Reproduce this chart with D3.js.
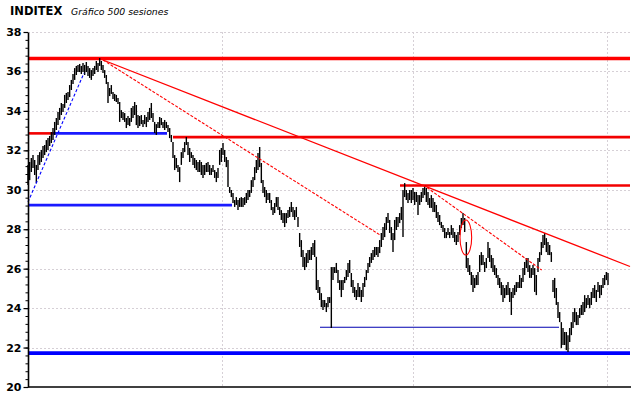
<!DOCTYPE html>
<html><head><meta charset="utf-8">
<script src="https://cdn.jsdelivr.net/npm/d3@7"></script>
<style>html,body{margin:0;padding:0;background:#fff;} svg{display:block;}</style>
</head><body>
<svg id="c" width="640" height="398"></svg>
<script>
// ---------- data ----------
const titleMain = "INDITEX";
const titleSub = "Gráfico 500 sesiones";
const yTickValues = [20, 22, 24, 26, 28, 30, 32, 34, 36, 38];
const yGridValues = [22, 24, 26, 28, 30, 32, 34, 36, 38];
const xGridSessions = [116.4, 231, 347.4];
const sessionSpan = [0, 361.2];

const highs = [
31.26,31.41,31.61,31.76,31.51,31.26,31.76,31.91,32.02,32.22,32.27,32.52,32.62,32.73,32.93,33.13,33.44,
33.64,33.94,34.15,34.40,34.35,34.81,34.91,34.96,35.31,35.57,
35.87,36.17,36.28,36.33,36.38,36.28,36.43,36.33,36.48,36.28,
36.17,36.07,36.17,36.28,36.53,36.43,36.68,36.53,36.33,36.07,
35.82,35.46,35.16,35.31,34.96,34.86,34.81,34.65,34.45,34.04,
33.94,33.89,33.64,33.74,33.64,34.15,34.25,34.45,34.30,33.79,
33.74,33.79,33.54,33.79,33.69,33.94,34.15,34.40,33.89,33.44,
33.33,33.44,33.69,33.64,33.44,33.54,33.44,33.28,33.13,32.78,
32.42,31.76,31.61,31.26,31.15,31.91,32.12,32.42,32.68,32.42,
32.12,31.91,31.76,31.61,31.51,31.41,31.51,31.41,31.26,31.26,
31.36,31.41,31.26,31.10,31.26,31.00,30.90,31.10,32.02,
32.12,32.37,32.02,31.66,31.51,30.14,29.99,29.84,29.48,29.63,
29.48,29.58,29.63,29.58,29.63,29.84,29.99,29.99,30.49,30.65,
31.15,31.51,31.86,32.17,31.36,30.49,30.14,29.99,29.84,29.84,
29.48,29.13,29.33,29.63,29.63,29.13,28.97,28.82,28.82,28.82,
28.97,29.13,29.38,29.13,28.97,29.13,28.62,27.81,27.45,26.95,
26.59,26.79,26.95,26.95,27.10,27.30,27.45,26.60,25.42,25.07,
24.76,24.41,24.41,24.26,24.56,24.56,26.08,26.08,26.08,26.29,
25.93,25.42,25.42,25.42,25.58,25.93,26.29,26.44,25.78,25.42,
25.07,24.92,25.27,25.07,24.92,25.27,25.58,25.93,26.29,26.59,
26.79,26.95,27.10,27.10,27.10,27.45,27.81,28.11,28.31,28.62,
28.82,28.47,28.11,27.81,28.47,28.62,28.62,28.82,29.13,29.99,
30.34,29.99,29.84,29.99,
29.99,30.09,29.89,29.89,29.73,29.73,29.89,30.09,30.24,30.09,
29.89,29.58,29.73,29.58,29.38,29.23,28.87,28.72,28.37,28.21,
28.06,27.86,28.06,27.86,28.21,28.06,27.86,27.71,27.86,28.21,
28.57,28.82,28.57,27.35,26.54,26.18,25.83,25.68,25.53,25.68,
25.83,26.69,26.84,26.69,26.34,26.54,27.35,27.05,26.69,26.54,
26.18,26.03,25.68,25.53,25.32,25.17,25.02,25.17,25.32,25.02,
24.82,25.02,25.17,25.32,25.32,25.68,25.53,26.03,26.34,26.54,
26.54,26.18,26.03,26.18,26.03,25.68,26.54,26.84,27.35,27.71,
27.81,27.55,27.35,27.20,26.84,25.42,25.53,25.02,24.31,23.80,
23.29,22.99,22.79,22.79,22.63,22.99,23.29,23.80,24.00,23.80,
23.65,24.00,24.16,24.31,24.66,24.51,24.66,24.51,24.82,25.02,
25.17,24.92,25.32,25.17,25.17,25.53,25.68,25.83,25.78
];

const lows = [
30.24,30.49,30.90,31.10,30.75,30.34,31.00,31.26,31.41,31.61,31.76,31.91,32.02,32.22,32.37,32.52,32.78,
33.03,33.28,33.54,33.79,33.94,34.15,34.40,34.55,34.70,35.06,
35.36,35.57,35.82,35.97,35.97,35.87,35.97,35.82,35.97,35.77,
35.67,35.57,35.77,35.87,36.07,35.97,36.28,36.07,35.92,35.67,
35.36,34.40,34.75,34.86,34.60,34.50,34.45,34.35,33.44,33.64,
33.54,33.44,33.13,33.28,33.23,33.44,33.64,33.79,33.28,33.13,
33.23,33.33,33.18,33.33,33.18,33.44,33.54,33.64,33.44,32.88,
32.78,33.13,33.13,33.28,33.13,33.03,33.13,32.93,32.62,32.42,
31.61,31.00,31.10,30.90,30.39,31.26,31.61,31.91,32.27,31.76,
31.41,31.61,31.26,31.10,31.00,30.90,30.90,30.75,30.60,30.75,
30.90,30.90,30.75,30.75,30.90,30.60,30.39,30.60,31.26,
31.41,31.76,31.41,31.15,30.14,29.84,29.63,29.33,29.13,29.23,
28.97,29.13,29.13,29.13,29.23,29.33,29.48,29.63,29.84,30.14,
30.49,30.85,31.00,31.15,30.34,29.84,29.63,29.33,29.48,29.33,
28.97,28.72,28.82,29.13,28.97,28.72,28.47,28.31,28.11,28.31,
28.57,28.62,28.87,28.62,28.47,28.62,28.11,27.10,26.59,26.08,
25.93,26.08,26.29,26.44,26.44,26.69,26.59,24.92,24.76,24.41,
24.05,23.90,24.05,23.80,24.05,24.26,22.99,25.42,25.78,25.78,
25.27,24.92,24.56,24.92,25.27,25.42,25.58,25.78,25.07,24.76,
24.56,24.41,24.56,24.56,24.31,24.56,25.07,25.42,25.78,26.08,
26.29,26.44,26.59,26.69,26.59,26.79,27.10,27.45,27.60,27.96,
28.31,27.81,27.45,26.84,27.45,27.96,28.11,28.31,28.47,27.60,
29.63,29.48,29.33,29.48,
29.33,29.48,29.23,29.38,28.72,29.23,29.38,29.58,29.73,29.38,
29.23,29.08,29.08,28.87,28.87,28.57,28.37,28.21,28.06,27.86,
27.55,27.55,27.71,27.55,27.71,27.55,27.35,27.20,27.35,27.71,
28.06,28.21,27.86,26.03,25.83,25.68,25.17,24.82,25.02,25.17,
25.17,25.83,26.18,26.18,25.83,26.03,26.54,26.34,26.03,25.83,
25.68,25.53,25.17,25.02,24.66,24.31,24.51,24.66,24.66,24.31,
23.65,24.51,24.66,24.82,25.02,25.02,25.02,25.32,25.68,26.03,
25.83,25.53,25.53,25.68,24.82,24.66,25.83,26.34,26.69,27.05,
27.20,26.84,26.69,26.69,26.34,24.82,24.51,24.16,23.50,23.29,
21.98,22.13,22.13,21.87,21.77,22.28,22.63,22.99,23.29,23.14,
23.14,23.50,23.65,23.65,23.80,24.00,24.16,24.00,24.16,24.51,
24.51,24.31,24.82,24.51,24.66,25.02,25.17,25.42,25.17
];

// horizontal levels: [price, fromSession, toSession]
const redMajorLevels = [[36.66, 0, 361.2]];
const redLevels = [[32.86, 0, 15], [32.67, 87, 361.2], [30.22, 223.2, 361.2]];
const blueLevels = [[32.86, 15, 83.4], [29.22, 0, 122.4]];
const blueMajorLevels = [[21.72, 0, 361.2]];
const navyLevels = [[23.03, 175.2, 318.6]];
// trend lines: [[session, price], [session, price]]
const redTrends = [[[45, 36.58], [361.2, 26.11]]];
const redDashedTrends = [[[45, 36.58], [211.2, 27.71]], [[237.2, 30.24], [308.2, 25.93]]];
const blueDashedTrends = [[[0, 29.38], [33.6, 35.92]]];
// ellipse marker: [session, price, halfSessions, halfPrice]
const markEllipses = [[262.7, 27.58, 3.5, 0.89]];

// ---------- drawing ----------
const svg = d3.select("#c");
const L = 28, R = 630, T = 32, B = 387;
const x = d3.scaleLinear().domain(sessionSpan).range([L, R]);
const y = d3.scaleLinear().domain([20, 38]).range([B, T]);

// titles
svg.append("text").attr("x", 10).attr("y", 15)
  .attr("font-family", "DejaVu Sans").attr("font-weight", "bold").attr("font-size", 11.5)
  .attr("fill", "#000").text(titleMain);
svg.append("text").attr("x", 71).attr("y", 15)
  .attr("font-family", "DejaVu Sans").attr("font-style", "italic").attr("font-size", 9.3)
  .attr("fill", "#000").text(titleSub);

// grid
const grid = svg.append("g");
grid.selectAll("line.hg").data(yGridValues).join("line")
  .attr("x1", L).attr("x2", R).attr("y1", d => Math.round(y(d)) + 0.5).attr("y2", d => Math.round(y(d)) + 0.5)
  .attr("stroke", "#d6d0d6").attr("stroke-width", 1).attr("stroke-dasharray", "2,2");
grid.selectAll("line.vg").data(xGridSessions).join("line")
  .attr("x1", d => Math.round(x(d)) + 0.5).attr("x2", d => Math.round(x(d)) + 0.5)
  .attr("y1", T).attr("y2", B)
  .attr("stroke", "#d6d0d6").attr("stroke-width", 1).attr("stroke-dasharray", "2,2");

// levels
function levels(data, color, width) {
  svg.append("g").selectAll("line").data(data).join("line")
    .attr("x1", d => x(d[1])).attr("x2", d => x(d[2]))
    .attr("y1", d => y(d[0])).attr("y2", d => y(d[0]))
    .attr("stroke", color).attr("stroke-width", width);
}
levels(redMajorLevels, "#ff0000", 3.4);
levels(redLevels, "#f20000", 2.6);
levels(blueLevels, "#1a1aff", 2.6);
levels(blueMajorLevels, "#0000ff", 3.6);
levels(navyLevels, "#0000b0", 1.2);

// price bars
svg.append("g").selectAll("line").data(highs).join("line")
  .attr("x1", (d, i) => x(i)).attr("x2", (d, i) => x(i))
  .attr("y1", d => y(d))
  .attr("y2", (d, i) => Math.max(y(lows[i]), y(d) + 1.5))
  .attr("stroke", "#000").attr("stroke-width", 1.4);

// trend lines
function trends(data, color, width, dash) {
  svg.append("g").selectAll("line").data(data).join("line")
    .attr("x1", d => x(d[0][0])).attr("y1", d => y(d[0][1]))
    .attr("x2", d => x(d[1][0])).attr("y2", d => y(d[1][1]))
    .attr("stroke", color).attr("stroke-width", width)
    .attr("stroke-dasharray", dash);
}
trends(redTrends, "#ff0000", 1.3, null);
trends(redDashedTrends, "#ff0000", 1.1, "3,1.5");
trends(blueDashedTrends, "#0000ff", 1.1, "3,2");

svg.append("g").selectAll("ellipse").data(markEllipses).join("ellipse")
  .attr("cx", d => x(d[0])).attr("cy", d => y(d[1]))
  .attr("rx", d => x(d[0] + d[2]) - x(d[0]))
  .attr("ry", d => y(d[1] - d[3]) - y(d[1]))
  .attr("fill", "none").attr("stroke", "#ff0000").attr("stroke-width", 1.1);

// axes
const minor = d3.range(20, 38.001, 0.4);
svg.append("g").attr("transform", `translate(${L},0)`)
  .call(d3.axisLeft(y).tickValues(minor).tickSize(2.5).tickFormat("").tickSizeOuter(0))
  .call(g => g.select(".domain").remove())
  .selectAll("line").attr("stroke", "#000");
const ya = svg.append("g").attr("transform", `translate(${L},0)`)
  .call(d3.axisLeft(y).tickValues(yTickValues).tickSize(4.5).tickPadding(2).tickSizeOuter(0));
ya.select(".domain").attr("stroke", "#000").attr("stroke-width", 1.6);
ya.selectAll(".tick line").attr("stroke", "#000").attr("stroke-width", 1.2);
ya.selectAll(".tick text").attr("font-family", "DejaVu Sans").attr("font-weight", "bold")
  .attr("font-size", 11).attr("fill", "#000");

svg.append("line").attr("x1", L).attr("x2", R + 1).attr("y1", B).attr("y2", B)
  .attr("stroke", "#000").attr("stroke-width", 1.6);
</script>
</body></html>
